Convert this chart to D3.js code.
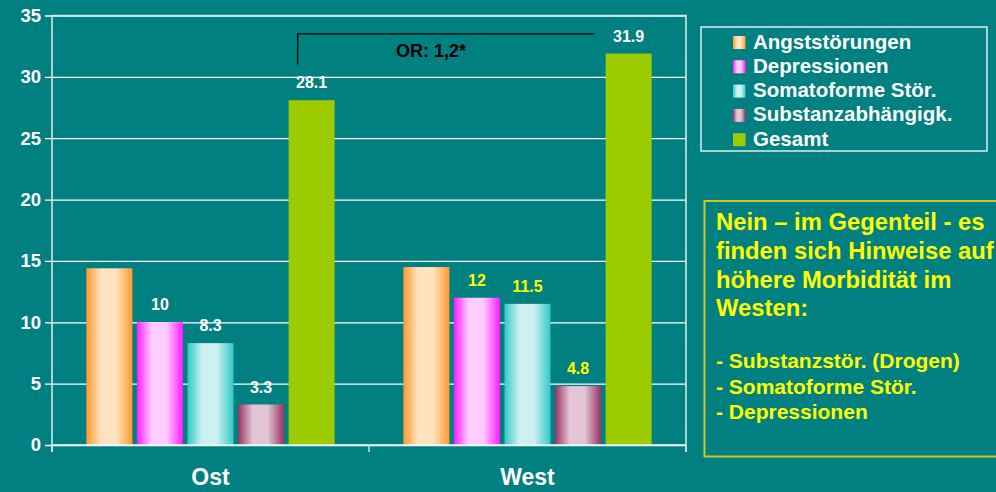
<!DOCTYPE html>
<html>
<head>
<meta charset="utf-8">
<script src="https://cdn.jsdelivr.net/npm/d3@7"></script>
<style>
  html, body { margin: 0; padding: 0; background: #008080; }
  svg { display: block; font-family: Arial, "Liberation Sans", sans-serif; font-weight: bold; }
</style>
</head>
<body>
<svg id="chart" width="996" height="492"></svg>
<script>
// Prävalenz psychischer Störungen, Ost vs. West (in %)
const categories = ["Ost", "West"];
const series = ["Angststörungen", "Depressionen", "Somatoforme Stör.", "Substanzabhängigk.", "Gesamt"];
const ostValues = [14.4, 10, 8.3, 3.3, 28.1];
const westValues = [14.5, 12, 11.5, 4.8, 31.9];
const labeledSeries = [false, true, true, true, true];
const yTicks = [0, 5, 10, 15, 20, 25, 30, 35];
const noteHeadline = ["Nein – im Gegenteil - es", "finden sich Hinweise auf", "höhere Morbidität im", "Westen:"];
const noteList = ["- Substanzstör. (Drogen)", "- Somatoforme Stör.", "- Depressionen"];
const oddsRatioLabel = "OR: 1,2*";

const valuesByCategory = { "Ost": ostValues, "West": westValues };

// bar fills: light centre, saturated edges
const fills = [
  { edge: "#ff9a2e", mid: "#ffe3c0" },
  { edge: "#ff1cff", mid: "#ffccff" },
  { edge: "#33c9c9", mid: "#cdf1f1" },
  { edge: "#983363", mid: "#e2c6d5" },
  { edge: "#9ccb00", mid: "#9ccb00" }
];

const svg = d3.select("#chart");
const plot = { left: 52, right: 686, top: 15.5, bottom: 445 };

const defs = svg.append("defs");
fills.forEach((f, i) => {
  const g = defs.append("linearGradient").attr("id", "grad" + i)
    .attr("x1", "0%").attr("x2", "100%").attr("y1", "0%").attr("y2", "0%");
  g.append("stop").attr("offset", "0%").attr("stop-color", f.edge);
  g.append("stop").attr("offset", "32%").attr("stop-color", f.mid);
  g.append("stop").attr("offset", "64%").attr("stop-color", f.mid);
  g.append("stop").attr("offset", "100%").attr("stop-color", f.edge);
});

const y = d3.scaleLinear().domain([0, 35]).range([plot.bottom, plot.top]);
const x0 = d3.scaleBand().domain(categories).range([plot.left, plot.right]);
const x1 = d3.scaleBand().domain(series).range([0, x0.bandwidth()])
  .paddingInner(0.09).paddingOuter(0.68);

// grid lines + left ticks
const yAxis = d3.axisLeft(y).tickValues(yTicks).tickSize(-(plot.right - plot.left)).tickSizeOuter(0).tickPadding(11);
const yG = svg.append("g").attr("transform", `translate(${plot.left},0)`).call(yAxis);
yG.select(".domain").remove();
yG.selectAll(".tick line").attr("stroke", "#ffffff").attr("stroke-width", 1.3).attr("x1", -7);
yG.selectAll(".tick text").attr("fill", "#ffffff").attr("font-size", 18.5).attr("font-weight", "bold")
  .attr("font-family", "Arial, 'Liberation Sans', sans-serif");

// frame: left axis, top and right border
const frameColor = "#cfe6e6";
svg.append("path")
  .attr("d", `M${plot.left},${plot.bottom + 7} V${plot.top} H${plot.right} V${plot.bottom + 7}`)
  .attr("fill", "none").attr("stroke", frameColor).attr("stroke-width", 1.6);

// bars
const groups = svg.append("g").selectAll("g").data(categories).join("g")
  .attr("transform", d => `translate(${x0(d)},0)`);

groups.selectAll("rect")
  .data(c => series.map((s, i) => ({ cat: c, s, i, v: valuesByCategory[c][i] })))
  .join("rect")
  .attr("x", d => x1(d.s))
  .attr("width", x1.bandwidth())
  .attr("y", d => y(d.v))
  .attr("height", d => y(0) - y(d.v))
  .attr("fill", d => `url(#grad${d.i})`);

// value labels
groups.selectAll("text.val")
  .data(c => series.map((s, i) => ({ cat: c, s, i, v: valuesByCategory[c][i] })).filter(d => labeledSeries[d.i]))
  .join("text")
  .attr("class", "val")
  .attr("x", d => x1(d.s) + x1.bandwidth() / 2)
  .attr("y", d => y(d.v) - 12)
  .attr("text-anchor", "middle")
  .attr("font-size", 16)
  .attr("fill", d => (d.cat === "West" && d.s !== "Gesamt") ? "#ffff00" : "#ffffff")
  .text(d => d.v);

// x axis baseline with category ticks
const xAxis = d3.axisBottom(x0).tickSize(0).tickPadding(24);
const xG = svg.append("g").attr("transform", `translate(0,${plot.bottom})`).call(xAxis);
xG.select(".domain").remove();
xG.selectAll(".tick text").attr("fill", "#ffffff").attr("font-size", 23).attr("font-weight", "bold")
  .attr("font-family", "Arial, 'Liberation Sans', sans-serif").attr("dy", "0.71em");
svg.append("line").attr("x1", plot.left).attr("x2", plot.right)
  .attr("y1", plot.bottom).attr("y2", plot.bottom)
  .attr("stroke", "#eef8f8").attr("stroke-width", 1.6);
svg.append("g").selectAll("line")
  .data([plot.left, ...categories.slice(1).map(c => x0(c)), plot.right])
  .join("line")
  .attr("x1", d => d).attr("x2", d => d)
  .attr("y1", plot.bottom).attr("y2", plot.bottom + 7)
  .attr("stroke", frameColor).attr("stroke-width", 1.4);

// odds-ratio bracket between the two totals
const bx1 = x0("Ost") + x1("Gesamt") + 9;
const bx2 = x0("West") + x1("Gesamt") - 11;
const by = y(33.5);
svg.append("path")
  .attr("d", `M${bx1},${y(31)} V${by} H${bx2}`)
  .attr("fill", "none").attr("stroke", "#000000").attr("stroke-width", 1.3);
svg.append("text")
  .attr("x", (bx1 + bx2) / 2 - 15).attr("y", by + 23)
  .attr("text-anchor", "middle").attr("font-size", 18).attr("fill", "#000000")
  .text(oddsRatioLabel);

// legend
const legend = svg.append("g");
legend.append("rect").attr("x", 701).attr("y", 27).attr("width", 286).attr("height", 124)
  .attr("fill", "none").attr("stroke", frameColor).attr("stroke-width", 1.6);
const items = legend.selectAll("g.item").data(series).join("g")
  .attr("class", "item")
  .attr("transform", (d, i) => `translate(733,${36 + i * 24.3})`);
items.append("rect").attr("width", 12.5).attr("height", 13)
  .attr("fill", (d, i) => `url(#grad${i})`);
items.append("text").attr("x", 20).attr("y", 12.5)
  .attr("font-size", 20.5).attr("fill", "#ffffff").text(d => d);

// note box
const note = svg.append("g");
note.append("rect").attr("x", 704.5).attr("y", 201).attr("width", 320).attr("height", 255.5)
  .attr("fill", "none").attr("stroke", "#d3c423").attr("stroke-width", 2);
note.selectAll("text.head").data(noteHeadline).join("text")
  .attr("class", "head")
  .attr("x", 716).attr("y", (d, i) => 230 + i * 28.8)
  .attr("font-size", 23.8).attr("fill", "#ffff00").text(d => d);
note.selectAll("text.list").data(noteList).join("text")
  .attr("class", "list")
  .attr("x", 716).attr("y", (d, i) => 368 + i * 25.6)
  .attr("font-size", 21).attr("fill", "#ffff00").text(d => d);
</script>
</body>
</html>
